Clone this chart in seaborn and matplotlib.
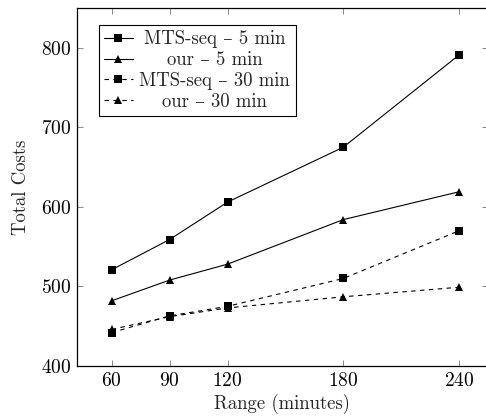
import matplotlib
matplotlib.use("Agg")
import matplotlib.pyplot as plt
import seaborn as sns
import pandas as pd
from matplotlib.transforms import Bbox

ranges = [60, 90, 120, 180, 240]
mts_5 = [521, 559, 606, 675, 791]
our_5 = [482, 508, 528, 584, 619]
mts_30 = [442, 463, 475, 510, 570]
our_30 = [446, 462, 473, 487, 499]
series_names = ["MTS-seq – 5 min", "our – 5 min", "MTS-seq – 30 min", "our – 30 min"]
x_ticks = [60, 90, 120, 180, 240]
y_ticks = [400, 500, 600, 700, 800]

rows = []
for name, vals in zip(series_names, [mts_5, our_5, mts_30, our_30]):
    for r, v in zip(ranges, vals):
        rows.append({"Range": r, "Cost": v, "Series": name})
df = pd.DataFrame(rows)

sns.set_style("ticks")
plt.rcParams["font.family"] = ["cmr10", "DejaVu Serif"]
plt.rcParams["mathtext.fontset"] = "cm"
plt.rcParams["axes.formatter.use_mathtext"] = True

fig = plt.figure(figsize=(4.86, 4.16), dpi=100)
ax = fig.add_axes([77/486, 50/416, 411/486, 358/416])

markers = {series_names[0]: "s", series_names[1]: "^", series_names[2]: "s", series_names[3]: "^"}
dashes = {series_names[0]: "", series_names[1]: "", series_names[2]: (4, 4), series_names[3]: (4, 4)}
palette = {n: "black" for n in series_names}

sns.lineplot(data=df, x="Range", y="Cost", hue="Series", style="Series",
             markers=markers, dashes=dashes, palette=palette,
             hue_order=series_names, style_order=series_names,
             markersize=6, linewidth=0.8, markeredgewidth=0, ax=ax)

ax.set_xlim(42, 255)
ax.set_ylim(400, 850)
ax.set_xticks(x_ticks)
ax.set_yticks(y_ticks)
ax.tick_params(direction="in", top=True, right=True, labelsize=14, length=4, width=0.6,
               colors="#777777", labelcolor="black", pad=4)
for s in ax.spines.values():
    s.set_linewidth(0.9)
    s.set_color("black")
ax.spines["right"].set_visible(False)
ax.set_xlabel("Range (minutes)", fontsize=13.5, labelpad=3)
ax.set_ylabel("Total Costs", fontsize=13.5, labelpad=8)

leg = ax.legend(loc="upper left", bbox_to_anchor=(0.053, 0.953), fontsize=13.5,
                frameon=True, fancybox=False, edgecolor="black", framealpha=1,
                handlelength=1.5, handletextpad=0.37, borderpad=0.3, labelspacing=0.15,
                borderaxespad=0)
leg.get_frame().set_linewidth(0.8)

# center the legend labels like the reference
fig.canvas.draw()
renderer = fig.canvas.get_renderer()
col = leg._legend_handle_box.get_children()[0]
items = col.get_children()
textareas = [it.get_children()[1] for it in items]
maxw = max(ta.get_bbox(renderer).width for ta in textareas)
for ta in textareas:
    orig = ta.get_bbox
    def new_bbox(r, orig=orig):
        bb = orig(r)
        extra = (maxw - bb.width) / 2
        return Bbox.from_bounds(bb.x0 - extra, bb.y0, maxw, bb.height)
    ta.get_bbox = new_bbox

fig.savefig("out.png", dpi=100)
